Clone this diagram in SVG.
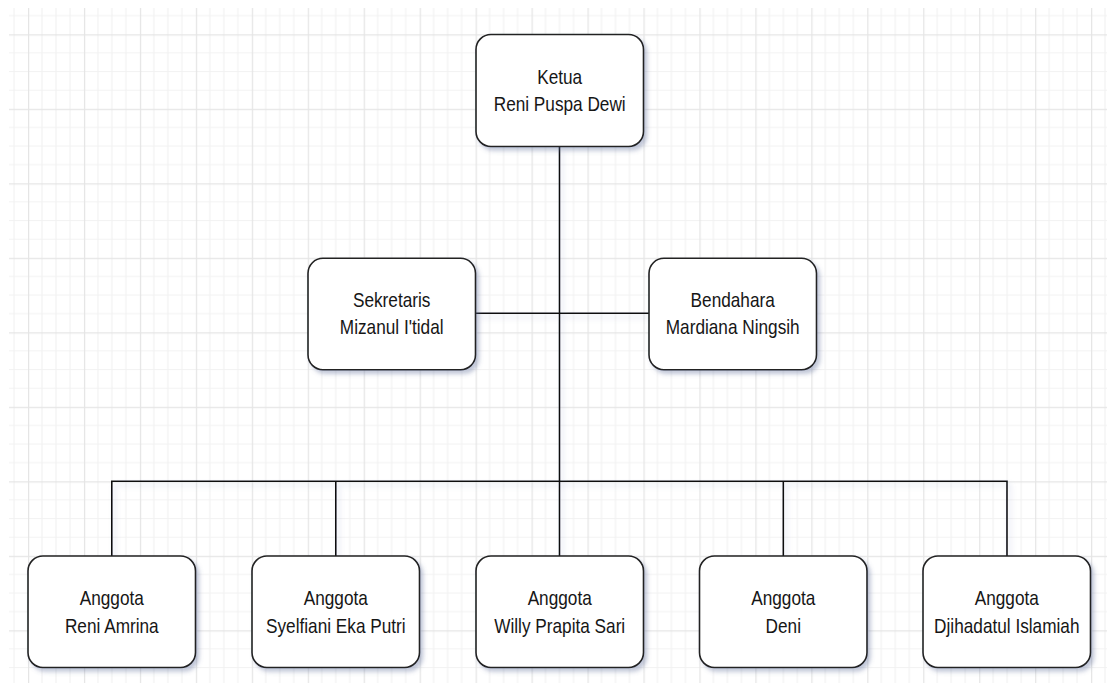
<svg xmlns="http://www.w3.org/2000/svg" width="1107" height="683" viewBox="0 0 1107 683">
  <defs>
    <pattern id="grid" patternUnits="userSpaceOnUse" x="28" y="34.3" width="55.95" height="74.5">
      <path d="M14 0V74.5M28 0V74.5M42 0V74.5M0 18.625H55.95M0 37.25H55.95M0 55.875H55.95" stroke="#f2f2f2" stroke-width="1.2" fill="none"/>
      <path d="M0.6 0V74.5M0 0.6H55.95" stroke="#e5e5e5" stroke-width="1.3" fill="none"/>
    </pattern>
    <filter id="sh" x="-10%" y="-10%" width="130%" height="130%">
      <feDropShadow dx="3" dy="3.5" stdDeviation="2.2" flood-color="#5a6a96" flood-opacity="0.38"/>
    </filter>
    <filter id="lsh" x="-5%" y="-50%" width="110%" height="200%" filterUnits="userSpaceOnUse">
      <feDropShadow dx="3" dy="4" stdDeviation="2.5" flood-color="#8090c0" flood-opacity="0.3"/>
    </filter>
  </defs>
  <style>
    .box { fill: #ffffff; stroke: #222222; stroke-width: 1.6; filter: url(#sh); }
    .lbl { font-family: "Liberation Sans", Arial, sans-serif; font-size: 21px; fill: #161616; text-anchor: middle; }
    .con { fill: none; stroke: #111111; stroke-width: 1.6; }
  </style>
  <rect x="0" y="0" width="1107" height="683" fill="#ffffff"/>
  <rect x="9" y="8" width="1098" height="675" fill="url(#grid)"/>

  <g id="connectors" filter="url(#lsh)">
    <path class="con" d="M559.5 146.5V481.3"/>
    <path class="con" d="M475.5 313.3H649"/>
    <path class="con" d="M111.8 556V481.3H1007V556"/>
    <path class="con" d="M335.8 481.3V556"/>
    <path class="con" d="M559.5 481.3V556"/>
    <path class="con" d="M783.3 481.3V556"/>
  </g>

  <g id="ketua">
    <rect class="box" x="476" y="34.5" width="167.5" height="112" rx="15"/>
    <text class="lbl" transform="matrix(0.82 0 0 1 559.7 0)" y="83.7">Ketua</text>
    <text class="lbl" transform="matrix(0.82 0 0 1 559.7 0)" y="110.7">Reni Puspa Dewi</text>
  </g>

  <g id="sekretaris">
    <rect class="box" x="308" y="258.3" width="167.5" height="111.5" rx="15"/>
    <text class="lbl" transform="matrix(0.82 0 0 1 391.7 0)" y="307.5">Sekretaris</text>
    <text class="lbl" transform="matrix(0.82 0 0 1 391.7 0)" y="334.5">Mizanul I'tidal</text>
  </g>

  <g id="bendahara">
    <rect class="box" x="649" y="258.3" width="167.5" height="111.5" rx="15"/>
    <text class="lbl" transform="matrix(0.82 0 0 1 732.7 0)" y="307.5">Bendahara</text>
    <text class="lbl" transform="matrix(0.82 0 0 1 732.7 0)" y="334.5">Mardiana Ningsih</text>
  </g>

  <g id="anggota1">
    <rect class="box" x="28" y="556" width="167.5" height="111.5" rx="15"/>
    <text class="lbl" transform="matrix(0.82 0 0 1 111.8 0)" y="605.5">Anggota</text>
    <text class="lbl" transform="matrix(0.82 0 0 1 111.8 0)" y="632.8">Reni Amrina</text>
  </g>

  <g id="anggota2">
    <rect class="box" x="252" y="556" width="167.5" height="111.5" rx="15"/>
    <text class="lbl" transform="matrix(0.82 0 0 1 335.8 0)" y="605.5">Anggota</text>
    <text class="lbl" transform="matrix(0.82 0 0 1 335.8 0)" y="632.8">Syelfiani Eka Putri</text>
  </g>

  <g id="anggota3">
    <rect class="box" x="476" y="556" width="167.5" height="111.5" rx="15"/>
    <text class="lbl" transform="matrix(0.82 0 0 1 559.7 0)" y="605.5">Anggota</text>
    <text class="lbl" transform="matrix(0.82 0 0 1 559.7 0)" y="632.8">Willy Prapita Sari</text>
  </g>

  <g id="anggota4">
    <rect class="box" x="699.5" y="556" width="167.5" height="111.5" rx="15"/>
    <text class="lbl" transform="matrix(0.82 0 0 1 783.3 0)" y="605.5">Anggota</text>
    <text class="lbl" transform="matrix(0.82 0 0 1 783.3 0)" y="632.8">Deni</text>
  </g>

  <g id="anggota5">
    <rect class="box" x="923" y="556" width="167.5" height="111.5" rx="15"/>
    <text class="lbl" transform="matrix(0.82 0 0 1 1006.8 0)" y="605.5">Anggota</text>
    <text class="lbl" transform="matrix(0.82 0 0 1 1006.8 0)" y="632.8">Djihadatul Islamiah</text>
  </g>
</svg>
